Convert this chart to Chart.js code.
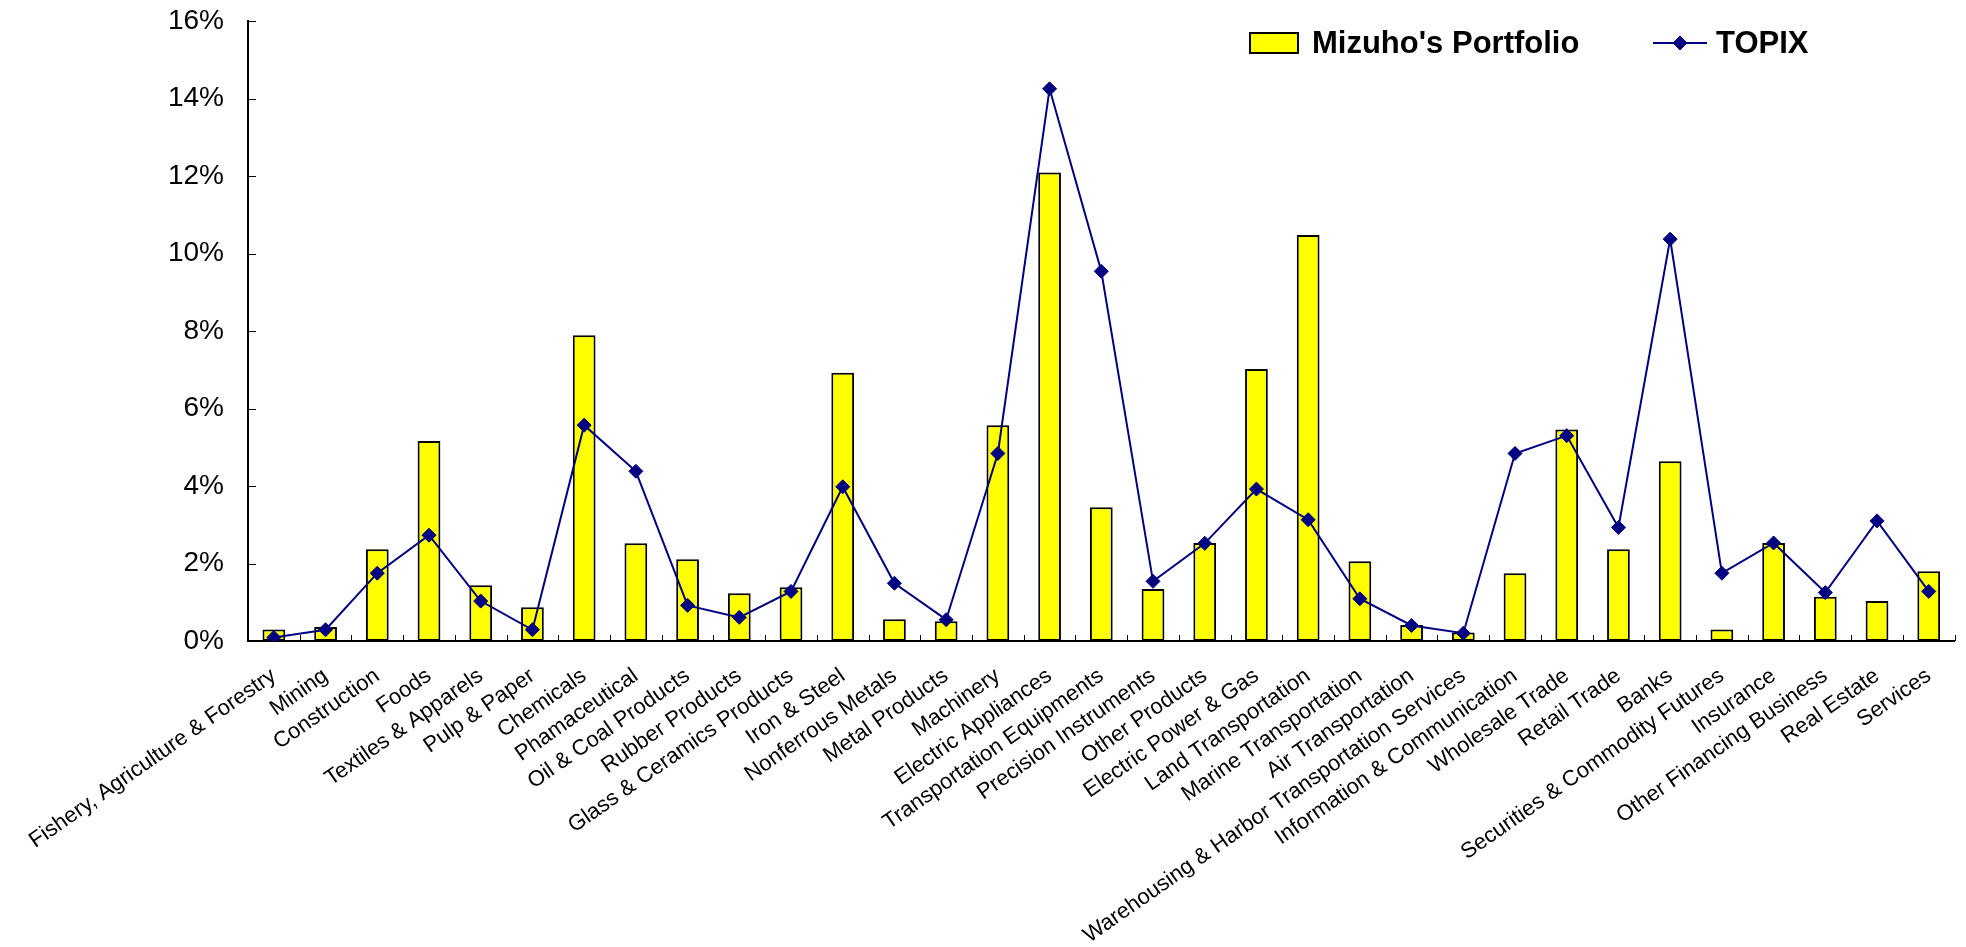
<!DOCTYPE html>
<html>
<head>
<meta charset="utf-8">
<title>Mizuho's Portfolio vs TOPIX by sector</title>
<script src="https://cdn.jsdelivr.net/npm/chart.js@4/dist/chart.umd.min.js"></script>
<style>
  html, body { margin: 0; padding: 0; background: #ffffff; }
  #wrap { width: 1966px; height: 947px; position: relative; }
</style>
</head>
<body>
<div id="wrap"><canvas id="chart" width="1966" height="947"></canvas></div>
<script>
// Sector weights (% of total)
const categories = [
  "Fishery, Agriculture & Forestry", "Mining", "Construction", "Foods",
  "Textiles & Apparels", "Pulp & Paper", "Chemicals", "Phamaceutical",
  "Oil & Coal Products", "Rubber Products", "Glass & Ceramics Products",
  "Iron & Steel", "Nonferrous Metals", "Metal Products", "Machinery",
  "Electric Appliances", "Transportation Equipments", "Precision Instruments",
  "Other Products", "Electric Power & Gas", "Land Transportation",
  "Marine Transportation", "Air Transportation",
  "Warehousing & Harbor Transportation Services",
  "Information & Communication", "Wholesale Trade", "Retail Trade", "Banks",
  "Securities & Commodity Futures", "Insurance", "Other Financing Business",
  "Real Estate", "Services"
];

const mizuhoPortfolio = [
  0.30, 0.36, 2.37, 5.16, 1.44, 0.87, 7.89, 2.52, 2.11, 1.23, 1.39,
  6.92, 0.56, 0.51, 5.57, 12.09, 3.45, 1.34, 2.53, 7.02, 10.48,
  2.06, 0.41, 0.22, 1.75, 5.46, 2.37, 4.64, 0.30, 2.53, 1.14, 1.03, 1.80
];

const topix = [
  0.09, 0.29, 1.75, 2.73, 1.03, 0.29, 5.57, 4.38, 0.92, 0.61, 1.28,
  3.98, 1.49, 0.55, 4.84, 14.25, 9.54, 1.54, 2.52, 3.92, 3.13,
  1.09, 0.40, 0.20, 4.84, 5.30, 2.93, 10.37, 1.75, 2.53, 1.25, 3.10, 1.28
];

const seriesNames = ["Mizuho's Portfolio", "TOPIX"];
const yAxisMin = 0;
const yAxisMax = 16;
const yAxisStep = 2;

const FONT = "'Liberation Sans', Arial, Helvetica, sans-serif";
const BAR_FILL = "#FFFF00";
const BAR_EDGE = "#000000";
const LINE_COLOR = "#000080";

// Short tick marks drawn on the inside of both axes
const innerTicks = {
  id: "innerTicks",
  afterDatasetsDraw(chart) {
    const { ctx, chartArea, scales } = chart;
    const xs = scales.x, ys = scales.y;
    ctx.save();
    ctx.strokeStyle = "#000000";
    ctx.lineWidth = 1;
    ctx.beginPath();
    const n = xs.ticks.length;
    for (let i = 1; i <= n; i++) {
      const px = i === n ? xs.right
        : (xs.getPixelForValue(i - 1) + xs.getPixelForValue(i)) / 2;
      const sx = Math.round(px) + 0.5;
      ctx.moveTo(sx, chartArea.bottom);
      ctx.lineTo(sx, chartArea.bottom - 6);
    }
    ys.ticks.forEach(t => {
      if (t.value === yAxisMin) return;
      const py = Math.round(ys.getPixelForValue(t.value)) + 0.5;
      ctx.moveTo(chartArea.left, py);
      ctx.lineTo(chartArea.left + 8, py);
    });
    ctx.stroke();
    ctx.restore();
  }
};

// Legend drawn over the upper right of the plot area
const overlayLegend = {
  id: "overlayLegend",
  afterDraw(chart) {
    const { ctx } = chart;
    const [bars, line] = chart.data.datasets;
    const cy = 43;
    ctx.save();
    ctx.font = "bold 31px " + FONT;
    ctx.textBaseline = "middle";

    // bar swatch
    ctx.fillStyle = bars.backgroundColor;
    ctx.fillRect(1250, 33, 48, 20);
    ctx.strokeStyle = bars.borderColor;
    ctx.lineWidth = 2;
    ctx.strokeRect(1250, 33, 48, 20);
    ctx.fillStyle = "#000";
    ctx.fillText(bars.label, 1312, cy + 1);

    // line swatch with its marker
    ctx.strokeStyle = line.borderColor;
    ctx.lineWidth = 2;
    ctx.beginPath();
    ctx.moveTo(1653, cy);
    ctx.lineTo(1707, cy);
    ctx.stroke();
    ctx.fillStyle = line.pointBackgroundColor;
    ctx.strokeStyle = line.pointBorderColor;
    ctx.lineWidth = 1;
    Chart.helpers.drawPoint(ctx, {
      pointStyle: line.pointStyle, radius: line.pointRadius, borderWidth: 1
    }, 1680, cy);
    ctx.fillStyle = "#000";
    ctx.fillText(line.label, 1716, cy + 1);
    ctx.restore();
  }
};

new Chart(document.getElementById("chart"), {
  type: "bar",
  data: {
    labels: categories,
    datasets: [
      {
        type: "bar",
        label: seriesNames[0],
        data: mizuhoPortfolio,
        backgroundColor: BAR_FILL,
        borderColor: BAR_EDGE,
        borderWidth: 2,
        borderSkipped: false,
        categoryPercentage: 1.0,
        barPercentage: 0.44,
        order: 2
      },
      {
        type: "line",
        label: seriesNames[1],
        data: topix,
        borderColor: LINE_COLOR,
        backgroundColor: LINE_COLOR,
        borderWidth: 2,
        tension: 0,
        pointStyle: "rectRot",
        pointRadius: 7,
        pointBackgroundColor: LINE_COLOR,
        pointBorderColor: LINE_COLOR,
        pointBorderWidth: 1,
        order: 1
      }
    ]
  },
  options: {
    responsive: false,
    animation: false,
    devicePixelRatio: 1,
    layout: { padding: { top: 21, right: 4, left: 0, bottom: 0 } },
    plugins: {
      legend: { display: false },
      tooltip: { enabled: false }
    },
    scales: {
      x: {
        offset: true,
        grid: { display: false, drawTicks: false },
        border: { display: true, color: "#000000", width: 2 },
        ticks: {
          autoSkip: false,
          minRotation: 35,
          maxRotation: 35,
          padding: 22,
          color: "#000000",
          font: { family: FONT, size: 22 }
        },
        afterFit(scale) { scale.height = 306; }
      },
      y: {
        min: yAxisMin,
        max: yAxisMax,
        grid: { display: false, drawTicks: false },
        border: { display: true, color: "#000000", width: 2 },
        ticks: {
          stepSize: yAxisStep,
          padding: 24,
          color: "#000000",
          font: { family: FONT, size: 28 },
          callback: v => v + "%"
        },
        afterFit(scale) {
          scale.width = 248;
          scale.paddingTop = 0;
          scale.paddingBottom = 0;
        }
      }
    }
  },
  plugins: [innerTicks, overlayLegend]
});
</script>
</body>
</html>
